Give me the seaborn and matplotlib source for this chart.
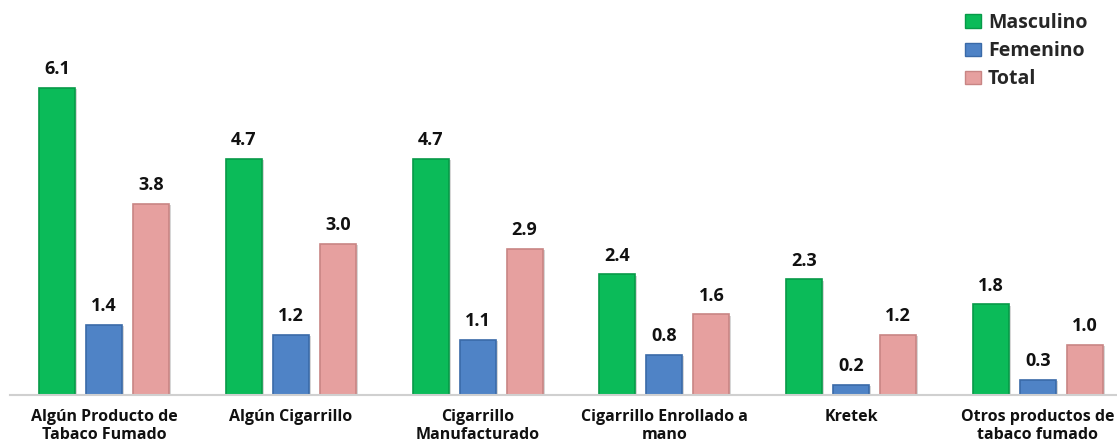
import matplotlib
matplotlib.use("Agg")
import matplotlib.pyplot as plt
from matplotlib.patches import Patch
import matplotlib.patheffects as pe
import seaborn as sns
import pandas as pd

categories = [
    "Algún Producto de\nTabaco Fumado",
    "Algún Cigarrillo",
    "Cigarrillo\nManufacturado",
    "Cigarrillo Enrollado a\nmano",
    "Kretek",
    "Otros productos de\ntabaco fumado",
]
masculino = [6.1, 4.7, 4.7, 2.4, 2.3, 1.8]
femenino = [1.4, 1.2, 1.1, 0.8, 0.2, 0.3]
total = [3.8, 3.0, 2.9, 1.6, 1.2, 1.0]
series = ["Masculino", "Femenino", "Total"]
colors = ["#0bbb59", "#4f83c6", "#e6a09f"]
edges = ["#079a48", "#3a6aa8", "#c88584"]

df = pd.DataFrame({
    "categoria": categories * 3,
    "serie": [s for s in series for _ in categories],
    "valor": masculino + femenino + total,
})

sns.set_theme(style="white")
plt.rcParams["font.family"] = ["Open Sans", "DejaVu Sans"]

fig = plt.figure(figsize=(11.17, 4.41), dpi=100)
ax = fig.add_axes([10 / 1117, 46 / 441, 1107 / 1117, 395 / 441])

sns.barplot(data=df, x="categoria", y="valor", hue="serie", order=categories,
            hue_order=series, palette=colors, saturation=1, width=0.755,
            gap=0.235, legend=False, ax=ax)

# soft drop shadow on each bar
shadow = [pe.SimplePatchShadow(offset=(1.5, -1), shadow_rgbFace="#bbbbbb",
                               alpha=0.6), pe.Normal()]
for container, ec in zip(ax.containers, edges):
    for bar in container:
        bar.set_edgecolor(ec)
        bar.set_linewidth(1.2)
        bar.set_path_effects(shadow)
    ax.bar_label(container, fmt="%.1f", padding=7, fontsize=13,
                 fontweight="bold", color="#111111")

ax.set_xlim(-0.503, 5.423)
ax.set_ylim(0, 7.85)
ax.set_xlabel("")
ax.set_ylabel("")
ax.set_yticks([])
for side in ["top", "right", "left"]:
    ax.spines[side].set_visible(False)
ax.spines["bottom"].set_color("#d0d0d0")
ax.spines["bottom"].set_linewidth(1.5)
ax.tick_params(axis="x", length=0, pad=10)
for lbl in ax.get_xticklabels():
    lbl.set_fontsize(11.5)
    lbl.set_fontweight("bold")
    lbl.set_color("#111111")
    lbl.set_verticalalignment("top")
    lbl.set_linespacing(1.15)

handles = [Patch(facecolor=c, edgecolor=e, label=s)
           for s, c, e in zip(series, colors, edges)]
leg = fig.legend(handles=handles, loc="upper left",
                 bbox_to_anchor=(948 / 1117, 1.01), frameon=False,
                 handlelength=0.8, handleheight=0.7, handletextpad=0.35,
                 labelspacing=0.42, prop={"weight": "bold", "size": 14})

fig.savefig("out.png", dpi=100)
